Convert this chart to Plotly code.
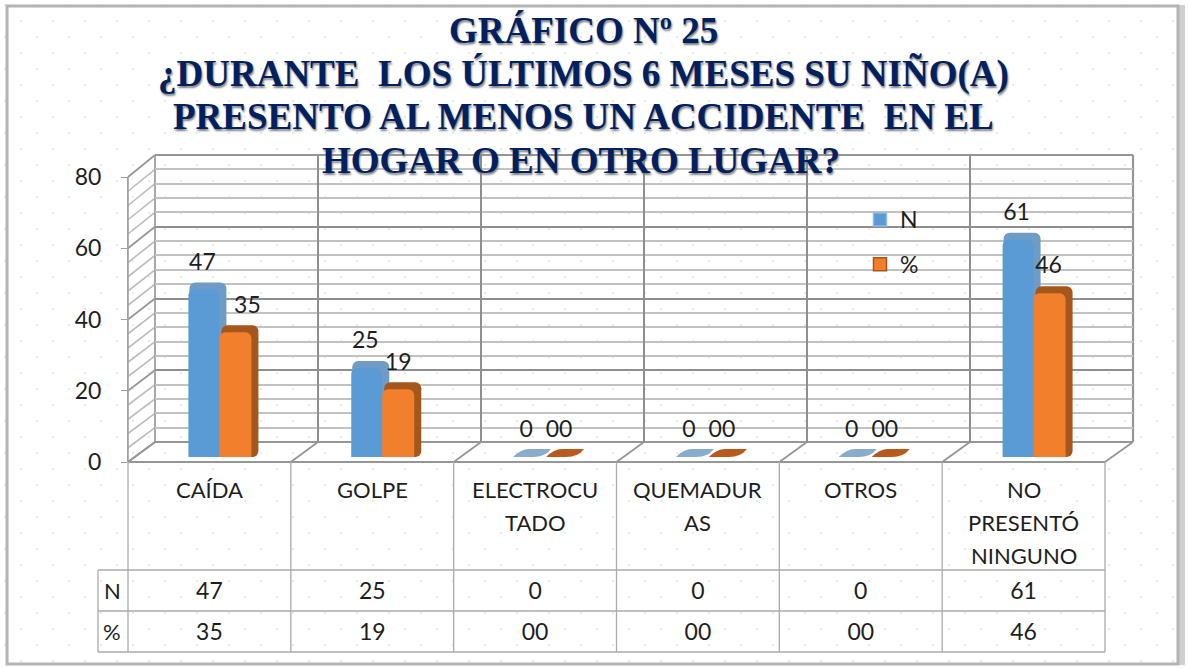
import base64
import plotly.graph_objects as go

# ---- data ----
categories = ["CAÍDA", "GOLPE", "ELECTROCU<br>TADO", "QUEMADUR<br>AS", "OTROS", "NO<br>PRESENTÓ<br>NINGUNO"]
n_values = [47, 25, 0, 0, 0, 61]
pct_values = [35, 19, 0, 0, 0, 46]
n_labels = ["47", "25", "0", "0", "0", "61"]
pct_labels = ["35", "19", "00", "00", "00", "46"]
title_lines = ["GRÁFICO Nº 25", "¿DURANTE  LOS ÚLTIMOS 6 MESES SU NIÑO(A)",
               "PRESENTO AL MENOS UN ACCIDENTE  EN EL", "HOGAR O EN OTRO LUGAR?"]
y_ticks = [0, 20, 40, 60, 80]

# ---- geometry & style (pixels of the 1188x668 page) ----
W, H = 1188, 668
FX0, FX1, FY0, FY1 = 128, 1105, 462, 177      # front plane
BX0, BX1, BY0, BY1 = 155, 1133, 442, 155      # back wall
GX0, GX1 = 141, 1118                           # plane of bars
BAR_Y0, BAR_Y1 = 457, 172
DEPTH = 7
UNIT = (FX1 - FX0) / 6
MAJOR = "#8f8f8f"; MINOR = "#c2c2c2"; TXT = "#1e1e1e"
FONT = "Lato"
BLUE, BLUE_D = "#5b9bd5", "#6f9cc6"
ORANGE, ORANGE_D = "#f27f2c", "#a5561c"

px = lambda x: x / W
py = lambda y: 1 - y / H
dom_x = lambda a, b: [px(a), px(b)]
dom_y = lambda a, b: [py(a), py(b)]

shapes = []
def line(x0, y0, x1, y1, color=MAJOR, width=1.5, layer="below"):
    shapes.append(dict(type="line", xref="paper", yref="paper", x0=px(x0), y0=py(y0), x1=px(x1), y1=py(y1),
                       line=dict(color=color, width=width), layer=layer))

# side wall hatching and floor
for v in range(0, 81, 4):
    t = v / 80
    major = v % 20 == 0
    line(FX0, FY0 + (FY1 - FY0) * t, BX0, BY0 + (BY1 - BY0) * t, "#969696" if major else "#bcbcbc", 1.7 if major else 1.6)
line(FX0, FY0, FX0, FY1, "#a0a0a0", 1.6)
line(BX0, BY0, BX0, BY1, "#a0a0a0", 1.8)
for i in range(7):
    line(FX0 + i * UNIT, FY0, BX0 + i * (BX1 - BX0) / 6, BY0, "#969696", 1.8)
line(FX0, FY0, FX1, FY0, "#969696", 2.2)
line(BX0, BY0, BX1, BY0, "#969696", 2.2)
line(BX0, BY1, BX1, BY1, "#969696", 2.2)
line(BX1, BY0, BX1, BY1, "#969696", 2.2)

# data table rules
ROW1, ROW2, ROW3 = 570, 611, 652
HDR = 98
for i in range(7):
    line(FX0 + i * UNIT, FY0, FX0 + i * UNIT, ROW3, "#ababab", 1.3)
for y in (ROW1, ROW2, ROW3):
    line(HDR, y, FX1, y, "#ababab", 1.3)
line(HDR, ROW1, HDR, ROW3, "#ababab", 1.3)

# frame
shapes.append(dict(type="rect", xref="paper", yref="paper", x0=px(1177), x1=px(1185), y0=py(665), y1=py(5),
                   fillcolor="#cfcfcf", line=dict(width=0), layer="below"))
shapes.append(dict(type="rect", xref="paper", yref="paper", x0=px(7), x1=px(1178), y0=py(664), y1=py(6),
                   line=dict(color="#b4b4b4", width=3), layer="below"))

# flat discs for zero values
def disc(center, dx0, dx1, color):
    x0, x1 = center + dx0, center + dx1
    t, b = 449, 457
    d = f"M {px(x0)} {py(b)} Q {px(x0 + 8)} {py(t)} {px(x0 + 16)} {py(t)} L {px(x1)} {py(t)} Q {px(x1 - 6)} {py(b)} {px(x1 - 18)} {py(b)} Z"
    shapes.append(dict(type="path", xref="paper", yref="paper", path=d, fillcolor=color, line=dict(width=0)))
for i in range(6):
    c = GX0 + (i + .5) * UNIT
    if n_values[i] == 0:
        disc(c, -35, 3, "#8aaccc")
    if pct_values[i] == 0:
        disc(c, -2, 36, "#b85a1e")

fig = go.Figure()
xs = list(range(6))
u = lambda p: p / UNIT
v_per_px = 80 / (BAR_Y0 - BAR_Y1)
drop = DEPTH * v_per_px   # the depth faces run down to the bars' foot
depth_h = lambda vals: [v + drop if v else None for v in vals]

# depth faces (side + top) behind the fronts
fig.add_trace(go.Bar(x=xs, y=depth_h(n_values), base=-drop, xaxis="x3", yaxis="y3", width=u(37), offset=u(-33), marker=dict(color=BLUE_D, line_width=0), showlegend=False))
fig.add_trace(go.Bar(x=xs, y=depth_h(pct_values), base=-drop, xaxis="x3", yaxis="y3", width=u(37), offset=u(-1), marker=dict(color=ORANGE_D, line_width=0), showlegend=False))
# fronts
fig.add_trace(go.Bar(x=xs, y=n_values, name="N", xaxis="x4", yaxis="y4", width=u(31), offset=u(-34), marker=dict(color=BLUE, line_width=0), showlegend=False))
fig.add_trace(go.Bar(x=xs, y=pct_values, name="%", xaxis="x4", yaxis="y4", width=u(32), offset=u(-3), marker=dict(color=ORANGE, line_width=0), showlegend=False))

# legend entries with the square key of the reference
fig.add_trace(go.Scatter(x=[None], y=[None], name="N", mode="markers", xaxis="x4", yaxis="y4", legendgroup="n",
                         marker=dict(symbol="square", size=13, color=BLUE, line=dict(color="#8dbbe3", width=1.5))))
fig.add_trace(go.Scatter(x=[None], y=[None], name="%", mode="markers", xaxis="x4", yaxis="y4", legendgroup="p",
                         marker=dict(symbol="square", size=13, color=ORANGE, line=dict(color=ORANGE_D, width=1.5))))

# value labels
n_dx = [-20, -20, -22, -22, -22, -20]
p_dx = [25, 13, 11, 11, 11, 12]
lab_font = dict(family=FONT, size=23, color=TXT)
fig.add_trace(go.Scatter(x=[i + u(d) for i, d in zip(xs, n_dx)], y=n_values, text=n_labels, mode="text", textposition="top center",
                         textfont=lab_font, xaxis="x5", yaxis="y5", showlegend=False, cliponaxis=False))
fig.add_trace(go.Scatter(x=[i + u(d) for i, d in zip(xs, p_dx)], y=pct_values, text=pct_labels, mode="text", textposition="top center",
                         textfont=lab_font, xaxis="x5", yaxis="y5", showlegend=False, cliponaxis=False))

# table values: one axis row per series
tab_font = dict(family=FONT, size=23, color=TXT)
fig.add_trace(go.Scatter(x=xs, y=["N"] * 6, text=n_labels, mode="text", textposition="middle center", textfont=tab_font,
                         xaxis="x6", yaxis="y6", showlegend=False))
fig.add_trace(go.Scatter(x=xs, y=["%"] * 6, text=pct_labels, mode="text", textposition="middle center", textfont=tab_font,
                         xaxis="x6", yaxis="y6", showlegend=False))

annotations = []
for i, c in enumerate(categories):
    for part, y in zip(c.split("<br>"), (490, 522, 555)):
        annotations.append(dict(text=part, x=i, xref="x", y=py(y), yref="paper", yanchor="middle", xanchor="center", showarrow=False,
                                font=dict(family=FONT, size=22, color=TXT)))
for lab, y in (("N", 590), ("%", 631)):
    annotations.append(dict(text=lab, x=px(112), xref="paper", y=py(y), yref="paper", xanchor="center", yanchor="middle", showarrow=False,
                            font=dict(family=FONT, size=22, color=TXT)))
for line_txt, y, cx in zip(title_lines, (31, 74, 116, 160), (583, 583, 583, 581)):
    annotations.append(dict(text=f"<b>{line_txt}</b>", x=px(cx), xref="paper", y=py(y), yref="paper", xanchor="center", yanchor="middle", showarrow=False,
                            font=dict(family="Liberation Serif", size=37, color="#002060", shadow="1px 2px 2px #7f7f7f")))

# dotted page background
svg = (f'<svg xmlns="http://www.w3.org/2000/svg" width="{W}" height="{H}"><defs><pattern id="d" width="32" height="32" patternUnits="userSpaceOnUse">'
       '<rect x="4" y="4" width="2" height="2" fill="#e4ebf6"/><rect x="20" y="20" width="2" height="2" fill="#e4ebf6"/></pattern></defs>'
       f'<rect width="{W}" height="{H}" fill="url(#d)"/></svg>')
bg = dict(source="data:image/svg+xml;base64," + base64.b64encode(svg.encode()).decode(), xref="paper", yref="paper",
          x=0, y=1, sizex=1, sizey=1, sizing="stretch", xanchor="left", yanchor="top", layer="below")

hidden = dict(visible=False, fixedrange=True)
xr = [-0.5, 5.5]
fig.update_layout(
    width=W, height=H, margin=dict(l=0, r=0, t=0, b=0, autoexpand=False), autosize=False,
    paper_bgcolor="#ffffff", plot_bgcolor="rgba(0,0,0,0)", barmode="overlay", barcornerradius=6,
    shapes=shapes, annotations=annotations, images=[bg],
    legend=dict(x=px(860), y=py(198), xanchor="left", yanchor="top", bgcolor="rgba(0,0,0,0)", font=dict(family=FONT, size=23, color=TXT),
                tracegroupgap=12, itemwidth=30, traceorder="grouped"),
    xaxis=dict(domain=dom_x(FX0, FX1), range=xr, visible=False, anchor="y"),
    yaxis=dict(domain=dom_y(FY0, FY1), range=[0, 80], tickvals=y_ticks, showgrid=False, zeroline=False, showline=True, linecolor="#a0a0a0",
               ticks="outside", ticklen=6, tickcolor="#a0a0a0", ticklabelstandoff=15, tickfont=dict(family=FONT, size=23, color=TXT), anchor="x"),
    # back wall, native gridlines
    xaxis2=dict(domain=dom_x(BX0, BX1), range=xr, tick0=-0.5, dtick=1, showgrid=True, gridcolor=MAJOR, gridwidth=2, showticklabels=False,
                ticks="", zeroline=False, anchor="y2"),
    yaxis2=dict(domain=dom_y(BY0, BY1), range=[0, 80], tick0=0, dtick=20, showgrid=True, gridcolor=MAJOR, gridwidth=2, showticklabels=False,
                ticks="", zeroline=False, anchor="x2", minor=dict(dtick=4, showgrid=True, gridcolor=MINOR, gridwidth=2.4, ticks="")),
    xaxis3=dict(domain=dom_x(GX0, GX1), range=xr, anchor="y3", **hidden),
    yaxis3=dict(domain=dom_y(BAR_Y0, BAR_Y1 - DEPTH), range=[-drop, 80], anchor="x3", **hidden),
    xaxis4=dict(domain=dom_x(GX0, GX1), range=xr, anchor="y4", **hidden),
    yaxis4=dict(domain=dom_y(BAR_Y0, BAR_Y1), range=[0, 80], anchor="x4", **hidden),
    xaxis5=dict(domain=dom_x(GX0, GX1), range=xr, anchor="y5", **hidden),
    yaxis5=dict(domain=dom_y(BAR_Y0 - DEPTH - 7, BAR_Y1 - DEPTH - 7), range=[0, 80], anchor="x5", **hidden),
    xaxis6=dict(domain=dom_x(FX0, FX1), range=xr, anchor="y6", **hidden),
    yaxis6=dict(domain=dom_y(ROW3 + 3, ROW1 + 3), type="category", categoryorder="array", categoryarray=["%", "N"], range=[-0.5, 1.5], anchor="x6", **hidden),
)
# an invisible carrier so the back-wall and front axes are drawn
fig.add_trace(go.Scatter(x=[], y=[], xaxis="x2", yaxis="y2", showlegend=False))
fig.add_trace(go.Scatter(x=[], y=[], xaxis="x", yaxis="y", showlegend=False))
fig.write_html("out.html", config=dict(displayModeBar=False), post_script="document.body.style.margin='0';")
